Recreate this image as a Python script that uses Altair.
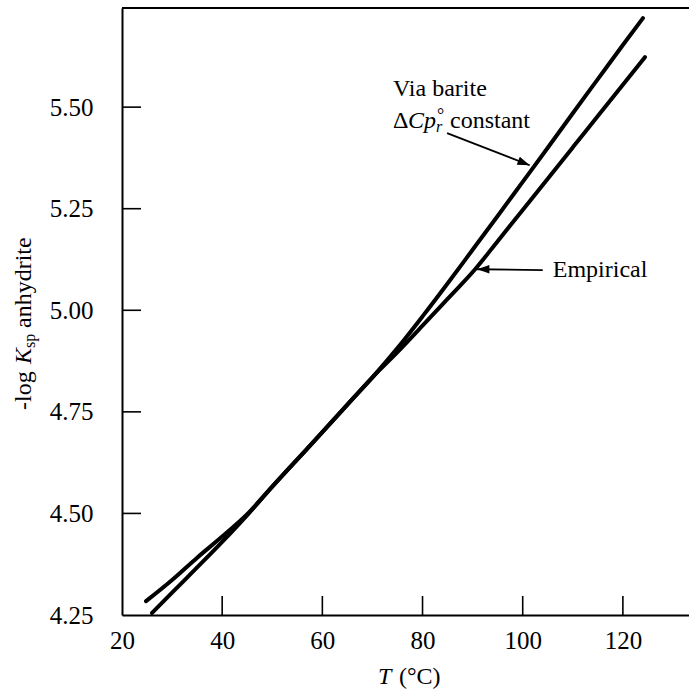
import altair as alt
import pandas as pd

# ---- data ----
T_barite = [26, 30, 35, 40, 45, 50, 55, 60, 65, 70, 75, 80, 85, 90, 95, 100, 105, 110, 115, 120, 124]
y_barite = [4.255, 4.305, 4.367, 4.430, 4.496, 4.566, 4.633, 4.700, 4.768, 4.835, 4.907, 4.985,
            5.066, 5.149, 5.232, 5.316, 5.400, 5.485, 5.569, 5.653, 5.719]
T_emp = [24.8, 30, 35, 40, 45, 50, 55, 60, 65, 70, 75, 80, 85, 90.5, 95, 100, 105, 110, 115, 120, 124.4]
y_emp = [4.284, 4.336, 4.391, 4.443, 4.498, 4.566, 4.633, 4.700, 4.768, 4.835, 4.897, 4.962,
         5.028, 5.101, 5.170, 5.247, 5.324, 5.401, 5.478, 5.555, 5.623]

x_ticks = [20, 40, 60, 80, 100, 120]
y_ticks = [4.25, 4.50, 4.75, 5.00, 5.25, 5.50]

# annotation anchor points (data coordinates)
arrow_tail_T = [84.9, 104.0]
arrow_tail_y = [5.436, 5.099]
arrow_head_T = [101.4, 90.9]
arrow_head_y = [5.357, 5.101]
arrow_angle = [111, 270]

FONT = "Liberation Serif"
W, H = 567, 607
X_DOM = [20, 133.2]
Y_DOM = [4.25, 5.744]

df = pd.concat([
    pd.DataFrame({"T": T_barite, "y": y_barite, "series": "Via barite"}),
    pd.DataFrame({"T": T_emp, "y": y_emp, "series": "Empirical"}),
])

xs = alt.Scale(domain=X_DOM, nice=False, zero=False)
ys = alt.Scale(domain=Y_DOM, nice=False, zero=False)

xaxis = alt.Axis(values=x_ticks, format="d", title=None, ticks=False, labelPadding=13,
                 labelFontSize=25, labelFlush=False, domainWidth=2, domainColor="black",
                 grid=False, labelColor="black", labelFont=FONT)
yaxis = alt.Axis(values=y_ticks, format=".2f", title=None, ticks=False, labelPadding=29,
                 labelFontSize=25, labelFlush=False, domainWidth=2, domainColor="black",
                 grid=False, labelColor="black", labelFont=FONT)

lines = alt.Chart(df).mark_line(color="black", strokeWidth=4, strokeCap="round",
                                interpolate="monotone").encode(
    x=alt.X("T:Q", scale=xs, axis=xaxis),
    y=alt.Y("y:Q", scale=ys, axis=yaxis),
    detail="series:N",
)

# inward ticks
xt = alt.Chart(pd.DataFrame({"T": x_ticks[1:]})).mark_rule(color="black", strokeWidth=1.6).encode(
    x=alt.X("T:Q", scale=xs), y=alt.value(H), y2=alt.value(H - 19))
yt = alt.Chart(pd.DataFrame({"y": y_ticks[1:]})).mark_rule(color="black", strokeWidth=1.6).encode(
    y=alt.Y("y:Q", scale=ys), x=alt.value(0), x2=alt.value(19))
top = alt.Chart(pd.DataFrame({"a": [0]})).mark_rule(color="black", strokeWidth=2).encode(
    y=alt.value(0), x=alt.value(0), x2=alt.value(W))

# arrows
arr = pd.DataFrame({"T": arrow_tail_T, "y": arrow_tail_y, "T2": arrow_head_T, "y2": arrow_head_y,
                    "ang": arrow_angle})
shafts = alt.Chart(arr).mark_rule(color="black", strokeWidth=1.8).encode(
    x=alt.X("T:Q", scale=xs), y=alt.Y("y:Q", scale=ys), x2="T2:Q", y2="y2:Q")
heads = alt.Chart(arr).mark_point(shape="M0,0L-0.35,1L0.35,1Z", filled=True, color="black",
                                  opacity=1, size=600).encode(
    x=alt.X("T2:Q", scale=xs), y=alt.Y("y2:Q", scale=ys), angle=alt.Angle("ang:Q", scale=None))

def txt(text, T, y, dx=0, dy=0, size=24, italic=False, align="left"):
    return alt.Chart(pd.DataFrame({"T": [T], "y": [y], "t": [text]})).mark_text(
        font=FONT, fontSize=size, fontStyle="italic" if italic else "normal", color="black",
        align=align, baseline="middle", dx=dx, dy=dy).encode(
        x=alt.X("T:Q", scale=xs), y=alt.Y("y:Q", scale=ys), text="t:N")

L1_T, L1_y = 74.1, 5.544
L2_T, L2_y = 74.1, 5.466
labels = [
    txt("Via barite", L1_T, L1_y),
    txt("Δ", L2_T, L2_y),
    txt("Cp", L2_T, L2_y, dx=15, italic=True),
    txt("°", L2_T, L2_y, dx=44, dy=-5, size=18),
    txt("r", L2_T, L2_y, dx=43, dy=6, size=16, italic=True),
    txt("constant", L2_T, L2_y, dx=57),
    txt("Empirical", 106.0, 5.099),
]

def pix_text(text, x, y, dx=0, dy=0, size=24, italic=False, angle=0):
    return alt.Chart(pd.DataFrame({"t": [text]})).mark_text(
        font=FONT, fontSize=size, fontStyle="italic" if italic else "normal", color="black",
        align="left", baseline="middle", dx=dx, dy=dy, angle=angle).encode(
        x=alt.value(x), y=alt.value(y), text="t:N")

# axis titles
xtitle = [
    pix_text("T", 256, 669, italic=True),
    pix_text("(°C)", 256, 669, dx=21),
]
ytitle = [
    pix_text("-log", -98, 402, angle=270),
    pix_text("K", -98, 402, dx=46, italic=True, angle=270),
    pix_text("sp", -98, 402, dx=62, dy=6, size=16, angle=270),
    pix_text("anhydrite", -98, 402, dx=82, angle=270),
]

chart = alt.layer(lines, xt, yt, top, shafts, heads, *labels, *xtitle, *ytitle).properties(
    width=W, height=H,
    padding={"left": 122, "top": 8, "right": 0, "bottom": 80},
    autosize=alt.AutoSizeParams(type="none"),
    background="white",
).configure_view(stroke=None)

chart.save("out.html", embed_options={"renderer": "svg", "actions": False})
